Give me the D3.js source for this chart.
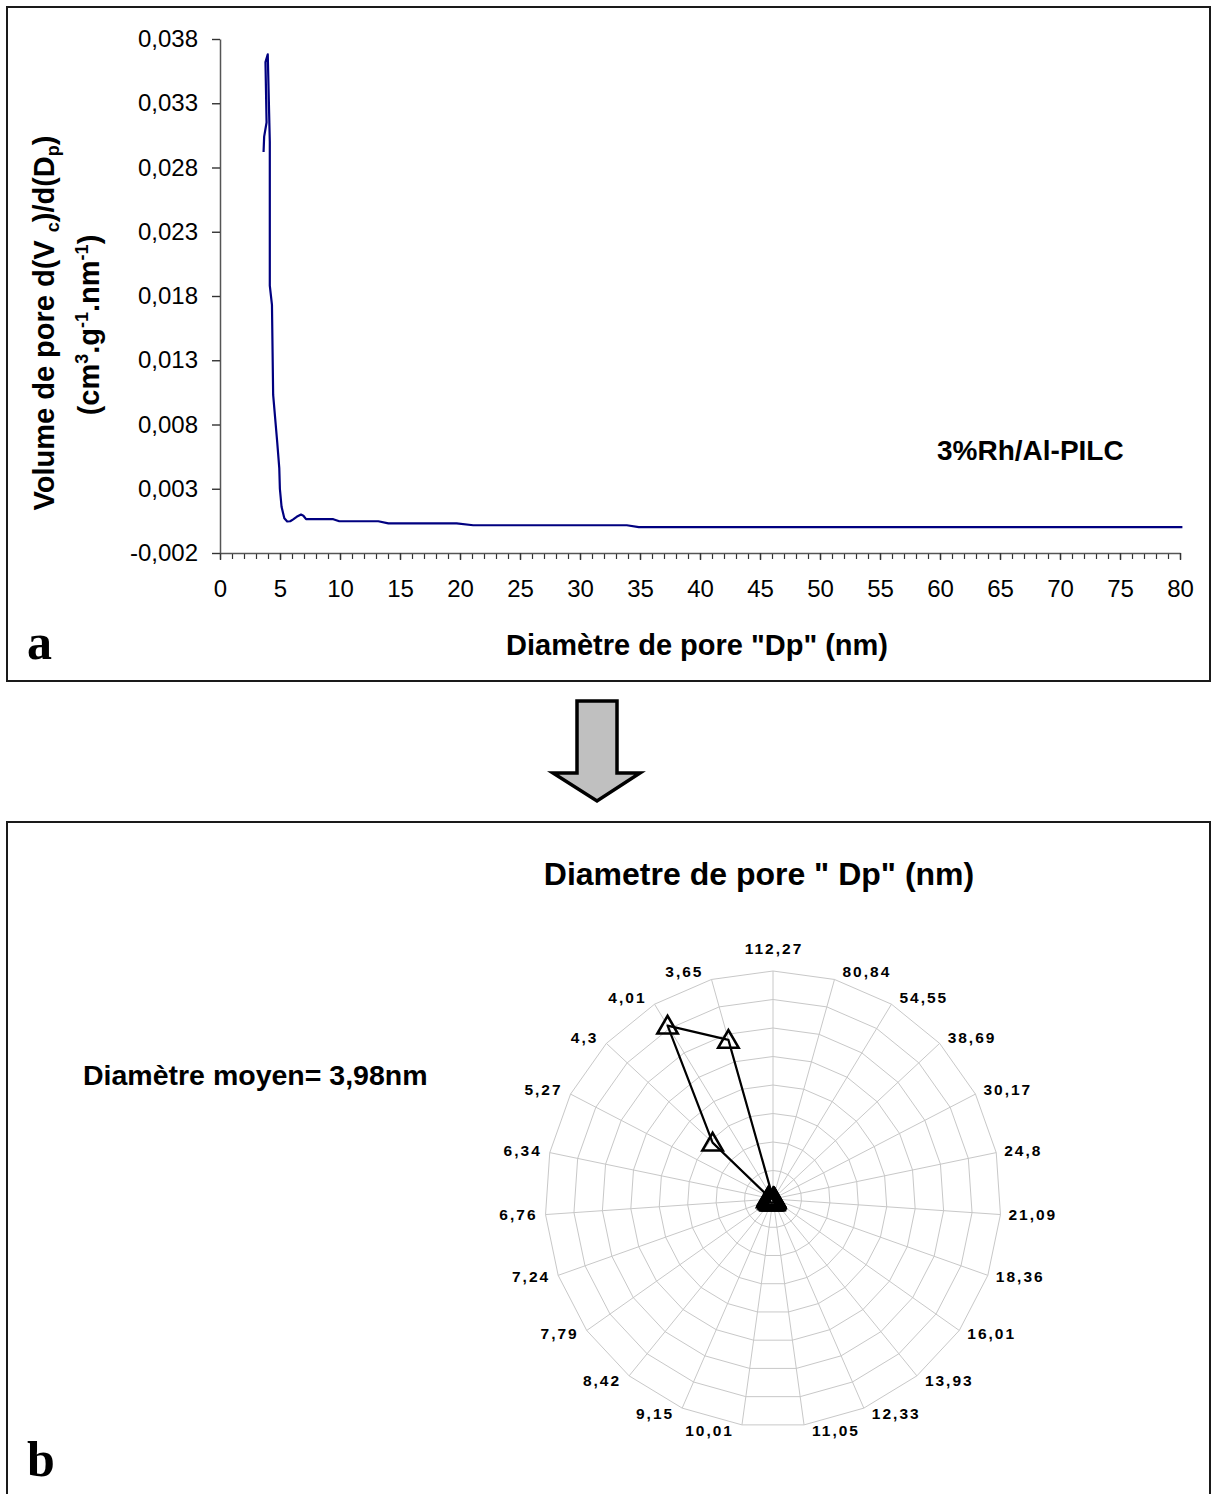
<!DOCTYPE html>
<html>
<head>
<meta charset="utf-8">
<script src="https://cdn.jsdelivr.net/npm/d3@7/dist/d3.min.js"></script>
<style>
  html, body { margin: 0; padding: 0; background: #fff; }
  svg { display: block; }
  text { fill: #000; }
</style>
</head>
<body>
<svg id="fig" width="1211" height="1494"></svg>
<script>
// ---- Panel a: pore size distribution (BJH) ----
const poreDiameter = [3.63, 3.68, 3.88, 3.79, 3.98, 4.15, 4.15, 4.33, 4.43, 4.77, 4.94, 4.99, 5.13, 5.36,
  5.6, 5.85, 6.1, 6.39, 6.75, 6.95, 7.17, 9.44, 9.94, 13.19, 14.03, 19.72, 21.1, 33.9, 34.9, 80.2];
const poreVolume = [0.0292, 0.0304, 0.0315, 0.0362, 0.0368, 0.0300, 0.0188, 0.0173, 0.0103, 0.0066, 0.0046, 0.0030, 0.0016, 0.0007,
  0.00045, 0.00047, 0.00062, 0.00082, 0.00099, 0.00090, 0.00063, 0.00063, 0.00047, 0.00047, 0.00031, 0.00031, 0.00016, 0.00016, 0.00002, 0.00002];
const yTickValues = [-0.002, 0.003, 0.008, 0.013, 0.018, 0.023, 0.028, 0.033, 0.038];
const xTickValues = [0, 5, 10, 15, 20, 25, 30, 35, 40, 45, 50, 55, 60, 65, 70, 75, 80];
const sampleName = "3%Rh/Al-PILC";

// ---- Panel b: radar of the distribution ----
const radarCategories = ["112,27", "80,84", "54,55", "38,69", "30,17", "24,8", "21,09", "18,36", "16,01",
  "13,93", "12,33", "11,05", "10,01", "9,15", "8,42", "7,79", "7,24", "6,76", "6,34", "5,27", "4,3", "4,01", "3,65"];
const radarValues = [0.0002, 0.0002, 0.0002, 0.0002, 0.0003, 0.0003, 0.0003, 0.0004, 0.0004,
  0.0004, 0.0006, 0.0006, 0.0006, 0.0007, 0.0007, 0.0007, 0.0008, 0.0010, 0.0009, 0.0009, 0.0145, 0.0356, 0.0290];
const radarRings = [0.005, 0.01, 0.015, 0.02, 0.025, 0.03, 0.035, 0.04];

const SANS = "'Liberation Sans', Arial, sans-serif";
const SERIF = "'Liberation Serif', 'Times New Roman', serif";

const locale = d3.formatLocale({decimal: ",", thousands: ".", grouping: [3], currency: ["", ""], minus: "-"});
const fmt3 = locale.format(".3f");

const svg = d3.select("#fig").style("font-family", SANS);
svg.append("rect").attr("width", 1211).attr("height", 1494).attr("fill", "#fff");

// ===== Panel a =====
const gA = svg.append("g");
gA.append("rect").attr("x", 7).attr("y", 7).attr("width", 1203).attr("height", 674)
  .attr("fill", "#fff").attr("stroke", "#1a1a1a").attr("stroke-width", 2);

const x = d3.scaleLinear().domain([0, 80]).range([220, 1180]);
const y = d3.scaleLinear().domain([-0.002, 0.038]).range([553, 39]);

// minor x ticks (every 1 nm)
gA.append("g").attr("transform", `translate(0,${y(-0.002)})`)
  .call(d3.axisBottom(x).tickValues(d3.range(0, 81, 1)).tickFormat("").tickSize(6).tickSizeOuter(0))
  .call(g => g.select(".domain").remove())
  .call(g => g.selectAll("line").attr("stroke", "#333").attr("stroke-width", 1.2));

// major x axis
const xAxisG = gA.append("g").attr("transform", `translate(0,${y(-0.002)})`)
  .call(d3.axisBottom(x).tickValues(xTickValues).tickFormat(d3.format("d")).tickSize(7).tickSizeOuter(0));
xAxisG.select(".domain").attr("stroke", "#555").attr("stroke-width", 1.5);
xAxisG.selectAll("line").attr("stroke", "#333").attr("stroke-width", 1.4);
xAxisG.selectAll("text").style("font-family", SANS).style("font-size", "24px")
  .attr("fill", "#000").attr("y", 44).attr("dy", 0);

// y axis
const yAxisG = gA.append("g").attr("transform", `translate(${x(0)},0)`)
  .call(d3.axisLeft(y).tickValues(yTickValues).tickFormat(fmt3).tickSize(8).tickSizeOuter(0));
yAxisG.select(".domain").attr("stroke", "#555").attr("stroke-width", 1.5);
yAxisG.selectAll("line").attr("stroke", "#333").attr("stroke-width", 1.4);
yAxisG.selectAll("text").style("font-family", SANS).style("font-size", "24px")
  .attr("fill", "#000").attr("x", -22).attr("dy", "0.32em");

// distribution curve
gA.append("path")
  .datum(poreDiameter.map((d, i) => [d, poreVolume[i]]))
  .attr("fill", "none").attr("stroke", "#000080").attr("stroke-width", 2.2)
  .attr("stroke-linejoin", "round")
  .attr("d", d3.line().x(d => x(d[0])).y(d => y(d[1])));

// sample label
gA.append("text").attr("x", 937).attr("y", 460).style("font-size", "28px").style("font-weight", "bold")
  .text(sampleName);

// axis titles
gA.append("text").attr("x", 697).attr("y", 655).attr("text-anchor", "middle")
  .style("font-size", "29px").style("font-weight", "bold")
  .text("Diamètre de pore \"Dp\" (nm)");

const yt1 = gA.append("text").attr("transform", "translate(54,323) rotate(-90)")
  .attr("text-anchor", "middle").style("font-size", "29px").style("font-weight", "bold");
yt1.append("tspan").text("Volume de pore d(V ");
yt1.append("tspan").style("font-size", "18px").attr("dy", 5).text("c");
yt1.append("tspan").attr("dy", -5).text(")/d(D");
yt1.append("tspan").style("font-size", "18px").attr("dy", 5).text("p");
yt1.append("tspan").attr("dy", -5).text(")");

const yt2 = gA.append("text").attr("transform", "translate(99,325) rotate(-90)")
  .attr("text-anchor", "middle").style("font-size", "29px").style("font-weight", "bold");
yt2.append("tspan").text("(cm");
yt2.append("tspan").style("font-size", "18px").attr("dy", -11).text("3");
yt2.append("tspan").attr("dy", 11).text(".g");
yt2.append("tspan").style("font-size", "18px").attr("dy", -11).text("-1");
yt2.append("tspan").attr("dy", 11).text(".nm");
yt2.append("tspan").style("font-size", "18px").attr("dy", -11).text("-1");
yt2.append("tspan").attr("dy", 11).text(")");

gA.append("text").attr("x", 27).attr("y", 659).style("font-family", SERIF)
  .style("font-size", "50px").style("font-weight", "bold").text("a");

// ===== Arrow between panels =====
svg.append("path")
  .attr("d", "M577,701 L617,701 L617,773 L640,773 L597,801 L553,773 L577,773 Z")
  .attr("fill", "#c0c0c0").attr("stroke", "#000").attr("stroke-width", 3.5).attr("stroke-linejoin", "miter");

// ===== Panel b =====
const gB = svg.append("g");
gB.append("rect").attr("x", 7).attr("y", 822).attr("width", 1203).attr("height", 700)
  .attr("fill", "#fff").attr("stroke", "#1a1a1a").attr("stroke-width", 2);

gB.append("text").attr("x", 759).attr("y", 885).attr("text-anchor", "middle")
  .style("font-size", "32px").style("font-weight", "bold")
  .text("Diametre de pore \" Dp\" (nm)");

gB.append("text").attr("x", 83).attr("y", 1085).style("font-size", "28.5px").style("font-weight", "bold")
  .text("Diamètre moyen= 3,98nm");

gB.append("text").attr("x", 27).attr("y", 1476).style("font-family", SERIF)
  .style("font-size", "50px").style("font-weight", "bold").text("b");

const cx = 773, cy = 1199;
const n = radarCategories.length;
const r = d3.scaleLinear().domain([0, 0.04]).range([0, 228]);
const angle = d3.scaleLinear().domain([0, n]).range([0, 2 * Math.PI]);
const pt = (i, v) => [cx + r(v) * Math.sin(angle(i)), cy - r(v) * Math.cos(angle(i))];

const radar = gB.append("g");
// spokes
radar.selectAll("line.spoke").data(radarCategories).join("line")
  .attr("class", "spoke")
  .attr("x1", cx).attr("y1", cy)
  .attr("x2", (d, i) => pt(i, 0.04)[0]).attr("y2", (d, i) => pt(i, 0.04)[1])
  .attr("stroke", "#c8c8c8").attr("stroke-width", 1);
// rings
radar.selectAll("path.ring").data(radarRings).join("path")
  .attr("class", "ring")
  .attr("d", v => d3.line()(d3.range(n).map(i => pt(i, v))) + "Z")
  .attr("fill", "none").attr("stroke", "#c8c8c8").attr("stroke-width", 1);

// category labels
radar.selectAll("text.cat").data(radarCategories).join("text")
  .attr("class", "cat")
  .style("font-size", "15.5px").style("font-weight", "bold").attr("letter-spacing", 2)
  .attr("dominant-baseline", "central")
  .attr("text-anchor", (d, i) => i === 0 ? "middle" : (Math.sin(angle(i)) > 0 ? "start" : "end"))
  .attr("x", (d, i) => {
    const [vx] = pt(i, 0.04);
    if (i === 0) return vx + 1;
    return vx + (Math.sin(angle(i)) > 0 ? 8 : -8);
  })
  .attr("y", (d, i) => {
    const [, vy] = pt(i, 0.04);
    if (i === 0) return vy - 23;
    return vy - 7 * Math.cos(angle(i)) - 1;
  })
  .text(d => d);

// series
const seriesPts = radarValues.map((v, i) => pt(i, v));
radar.append("path")
  .attr("d", d3.line()(seriesPts) + "Z")
  .attr("fill", "none").attr("stroke", "#000").attr("stroke-width", 2.2).attr("stroke-linejoin", "round");

const tri = d3.symbol().type(d3.symbolTriangle).size(180);
radar.selectAll("path.mk").data(seriesPts).join("path")
  .attr("class", "mk")
  .attr("transform", d => `translate(${d[0]},${d[1] + 2})`)
  .attr("d", tri)
  .attr("fill", "none").attr("stroke", "#000").attr("stroke-width", 2.6);
</script>
</body>
</html>
